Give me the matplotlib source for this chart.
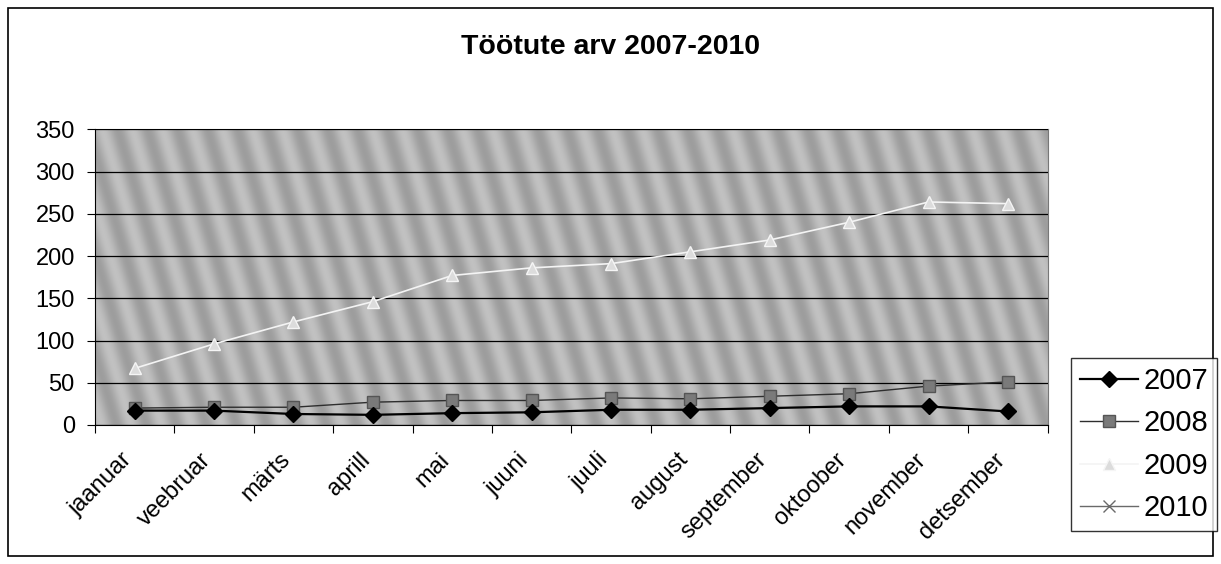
import matplotlib.pyplot as plt
import matplotlib.patches as patches
from matplotlib.transforms import ScaledTranslation
import numpy as np

plt.rcParams['font.family'] = ['Liberation Sans', 'DejaVu Sans']

months = ['jaanuar', 'veebruar', 'märts', 'aprill', 'mai', 'juuni', 'juuli',
          'august', 'september', 'oktoober', 'november', 'detsember']
y2007 = [17, 17, 13, 12, 14, 15, 18, 18, 20, 22, 22, 16]
y2008 = [20, 21, 21, 27, 29, 29, 32, 31, 34, 37, 46, 51]
y2009 = [67, 96, 122, 146, 177, 186, 191, 205, 219, 240, 264, 262]
y2010 = [np.nan] * 12

fig = plt.figure(figsize=(12.21, 5.64), dpi=100)
ax = fig.add_axes([0.0778, 0.2465, 0.7802, 0.5242])

# outer chart border
fig.patches.append(patches.Rectangle((8 / 1221, 8 / 564), 1205 / 1221, 548 / 564,
                                     transform=fig.transFigure, fill=False,
                                     edgecolor='black', linewidth=1.2))

# textured grey plot area (stripes)
xx, yy = np.meshgrid(np.arange(953), np.arange(296))
tex = 0.5 + 0.5 * np.sin(2 * np.pi * (xx - 0.3 * yy) / 30.0)
ax.imshow(tex, extent=[-0.5, 11.5, 0, 350], aspect='auto', cmap='gray',
          vmin=-4.4, vmax=2.74, zorder=0, interpolation='bilinear')

x = np.arange(len(months))
ax.plot(x, y2007, color='black', lw=1.6, marker='D', ms=8,
        mfc='black', mec='black', label='2007', zorder=5)
ax.plot(x, y2008, color='#2e2e2e', lw=1.0, marker='s', ms=8,
        mfc='#7a7a7a', mec='#555555', label='2008', zorder=4)
ax.plot(x, y2009, color='#f4f4f4', lw=1.2, marker='^', ms=8,
        mfc='#dcdcdc', mec='#f5f5f5', label='2009', zorder=4)
ax.plot(x, y2010, color='#6a6a6a', lw=1.0, marker='x', ms=9,
        mec='#6a6a6a', label='2010', zorder=4)

ax.set_xlim(-0.5, 11.5)
ax.set_ylim(0, 350)
ax.set_yticks(range(0, 351, 50))
ax.yaxis.grid(True, color='black', lw=0.9)
ax.set_axisbelow(False)
ax.tick_params(axis='y', labelsize=17, length=5.5, pad=9, direction='out')

ax.set_xticks(np.arange(-0.5, 12, 1))
ax.set_xticklabels([])
ax.set_xticks(x, minor=True)
ax.set_xticklabels(months, minor=True, rotation=45, ha='right',
                   rotation_mode='anchor', fontsize=17)
ax.tick_params(axis='x', which='major', length=5.5)
ax.tick_params(axis='x', which='minor', length=0, pad=17)
for lbl in ax.get_xticklabels(minor=True):
    lbl.set_transform(lbl.get_transform() +
                      ScaledTranslation(-14 / 100, 0, fig.dpi_scale_trans))

for side in ['top', 'right']:
    ax.spines[side].set_color('#777777')
    ax.spines[side].set_linewidth(0.8)

fig.text(0.5, 0.917, 'Töötute arv 2007-2010', ha='center', va='center',
         fontsize=20.5, fontweight='bold')

leg = fig.legend(loc='upper left', bbox_to_anchor=(1071 / 1221, 1 - 358 / 564),
                 fontsize=21, frameon=True, fancybox=False, edgecolor='black',
                 handlelength=2.0, borderpad=0.3, labelspacing=0.5,
                 handletextpad=0.2, borderaxespad=0)
leg.get_frame().set_linewidth(1.0)

fig.savefig('out.png', dpi=100)
